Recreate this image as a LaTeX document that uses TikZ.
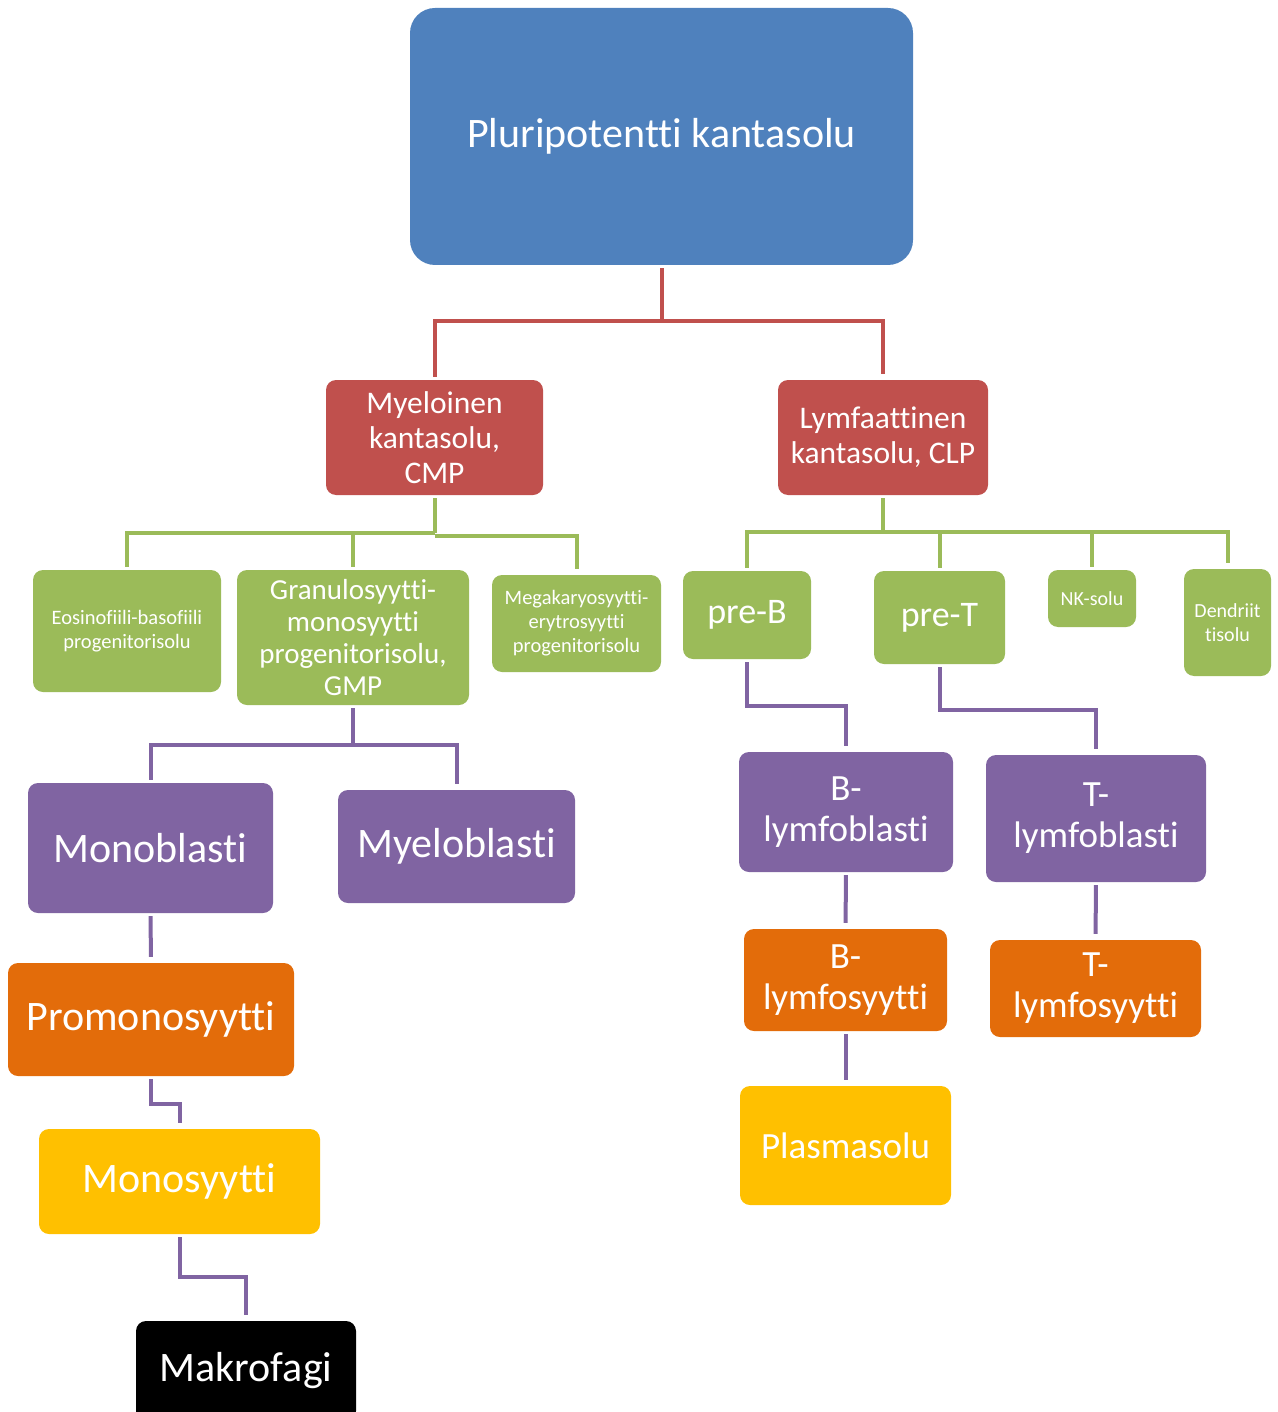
\documentclass[tikz,border=0pt]{standalone}
\usepackage{fontspec}
\setmainfont[Ligatures=NoCommon]{Carlito}
\definecolor{cblue}{HTML}{4F81BD}
\definecolor{cred}{HTML}{C0504D}
\definecolor{cgreen}{HTML}{9BBB59}
\definecolor{cpurple}{HTML}{8064A2}
\definecolor{corange}{HTML}{E36C0A}
\definecolor{cyellow}{HTML}{FFC000}
\newcommand\fz[2]{\fontsize{#1}{#2}\selectfont}
\begin{document}
\begin{tikzpicture}[x=1pt,y=-1pt,
  cell/.style={rounded corners=10pt, inner sep=0pt, text=white, align=center},
  bluebox/.style={cell, fill=cblue, rounded corners=25pt},
  redbox/.style={cell, fill=cred},
  greenbox/.style={cell, fill=cgreen},
  purplebox/.style={cell, fill=cpurple},
  orangebox/.style={cell, fill=corange},
  yellowbox/.style={cell, fill=cyellow},
  blackbox/.style={cell, fill=black},
  conn/.style={line width=4pt, shorten <=3pt, shorten >=6pt},
  redline/.style={conn, draw=cred},
  greenline/.style={conn, draw=cgreen},
  purpleline/.style={conn, draw=cpurple}]
\useasboundingbox (0,0) rectangle (1277,1412);

\node[bluebox, minimum width=503pt, minimum height=257pt, font=\fz{42}{48}] (root) at (661.5,136.5) {\raisebox{-2pt}{Pluripotentti kantasolu}};

\node[redbox, minimum width=217pt, minimum height=115pt, font=\fz{31.5}{35}] (cmp) at (434.5,437.5) {Myeloinen\\kantasolu,\\CMP};
\node[redbox, minimum width=210pt, minimum height=115pt, font=\fz{31.5}{35}] (clp) at (883,437.5) {Lymfaattinen\\kantasolu, CLP};

\node[greenbox, minimum width=188pt, minimum height=122pt, font=\fz{20.5}{24}] (eos) at (127,631) {Eosinofiili-basofiili\\progenitorisolu};
\node[greenbox, minimum width=232pt, minimum height=135pt, font=\fz{29}{32}] (gmp) at (353,637.5) {Granulosyytti-\\monosyytti\\progenitorisolu,\\GMP};
\node[greenbox, minimum width=169pt, minimum height=97pt, font=\fz{20.5}{24}] (mega) at (576.5,623.5) {Megakaryosyytti-\\erytrosyytti\\progenitorisolu};
\node[greenbox, minimum width=128pt, minimum height=88pt, font=\fz{36}{40}] (preb) at (747,615) {pre-B};
\node[greenbox, minimum width=131pt, minimum height=93pt, font=\fz{36}{40}] (pret) at (939.5,617.5) {pre-T};
\node[greenbox, minimum width=88pt, minimum height=57pt, font=\fz{20}{24}] (nk) at (1092,598.5) {NK-solu};
\node[greenbox, minimum width=87pt, minimum height=107pt, font=\fz{20}{24}] (dend) at (1227.5,622.5) {Dendriit\\tisolu};

\node[purplebox, minimum width=245pt, minimum height=130pt, font=\fz{42}{48}] (monob) at (150.5,848) {Monoblasti};
\node[purplebox, minimum width=237pt, minimum height=113pt, font=\fz{42}{48}] (myelob) at (456.5,846.5) {Myeloblasti};
\node[purplebox, minimum width=214pt, minimum height=120pt, font=\fz{37}{41}] (blb) at (846,812) {B-\\lymfoblasti};
\node[purplebox, minimum width=220pt, minimum height=127pt, font=\fz{37}{41}] (tlb) at (1096,818.5) {T-\\lymfoblasti};

\node[orangebox, minimum width=286pt, minimum height=113pt, font=\fz{42}{48}] (promo) at (151,1019.5) {Promonosyytti};
\node[orangebox, minimum width=203pt, minimum height=102pt, font=\fz{37}{41}] (bls) at (845.5,980) {B-\\lymfosyytti};
\node[orangebox, minimum width=211pt, minimum height=97pt, font=\fz{37}{41}] (tls) at (1095.5,988.5) {T-\\lymfosyytti};

\node[yellowbox, minimum width=281pt, minimum height=105pt, font=\fz{42}{48}] (monos) at (179.5,1181.5) {Monosyytti};
\node[yellowbox, minimum width=211pt, minimum height=119pt, font=\fz{37}{41}] (plasma) at (845.5,1145.5) {Plasmasolu};

\node[blackbox, minimum width=220pt, minimum height=100pt, font=\fz{42}{48}] (makro) at (246,1371) {Makrofagi};

% red connectors
\path (root.south) ++(0,56) coordinate (rj);
\draw[redline, shorten >=0pt] (root.south) -- (rj);
\draw[redline] (cmp.north) |- (rj) -| (clp.north);

% green connectors (myeloid)
\path (cmp.south) ++(0,38) coordinate (gj);
\draw[greenline, shorten >=0pt] (cmp.south) -- (gj);
\draw[greenline, shorten >=0pt] (eos.north) |- (gj);
\draw[greenline, shorten >=0pt] (gmp.north) -- (gmp.north |- gj);
\draw[greenline, shorten <=0pt] (gj) ++(0,3) -| (mega.north);

% green connectors (lymphoid)
\path (clp.south) ++(0,37) coordinate (lj);
\draw[greenline, shorten >=0pt] (clp.south) -- (lj);
\draw[greenline] (preb.north) |- (lj) -| (dend.north);
\draw[greenline, shorten >=0pt] (pret.north) -- (pret.north |- lj);
\draw[greenline, shorten >=0pt] (nk.north) -- (nk.north |- lj);

% purple connectors
\path (gmp.south) ++(0,40) coordinate (pj);
\draw[purpleline, shorten >=0pt] (gmp.south) -- (pj);
\draw[purpleline] (monob.north) |- (pj) -| (myelob.north);
\draw[purpleline] (monob.south) -- (promo.north);
\draw[purpleline] (promo.south) -- ++(0,28) -| (monos.north);
\draw[purpleline] (monos.south) -- ++(0,43) -| (makro.north);
\draw[purpleline] (preb.south) -- ++(0,47) -| (blb.north);
\draw[purpleline] (pret.south) -- ++(0,46) -| (tlb.north);
\draw[purpleline] (blb.south) -- (bls.north);
\draw[purpleline] (bls.south) -- (plasma.north);
\draw[purpleline] (tlb.south) -- (tls.north);
\end{tikzpicture}
\end{document}
